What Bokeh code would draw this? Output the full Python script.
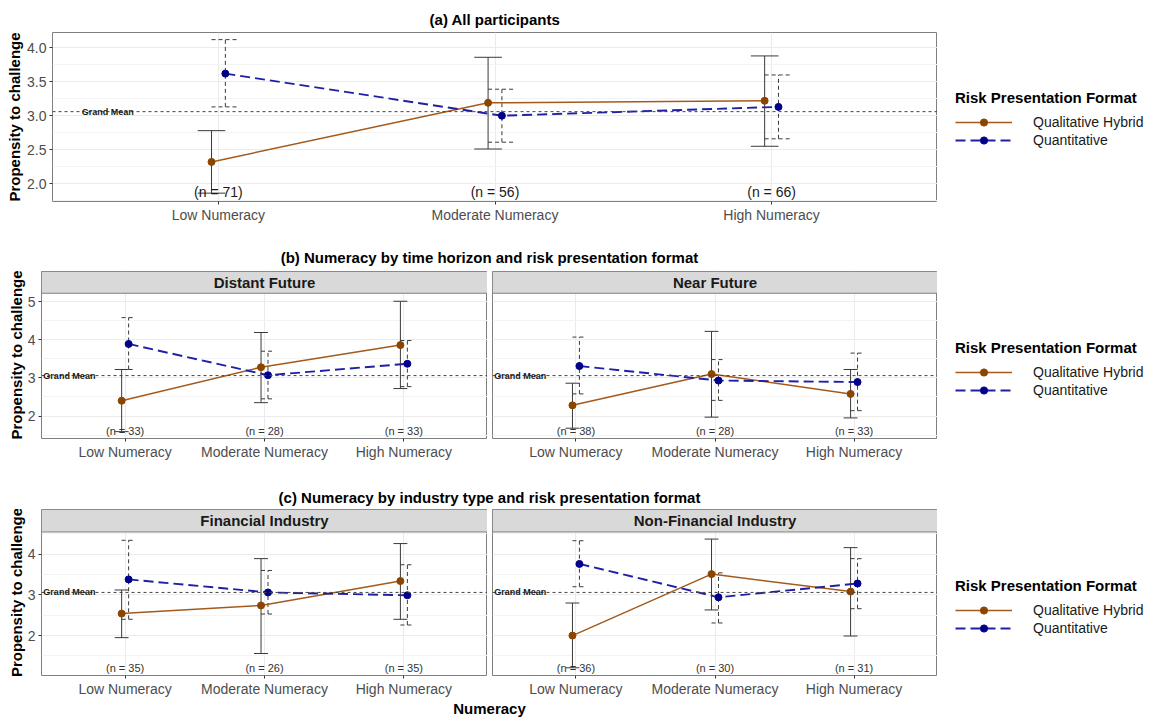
from bokeh.plotting import figure
from bokeh.models import (Range1d, FixedTicker, Legend, LegendItem, Label, Span,
                          Grid, NumeralTickFormatter, Spacer)
from bokeh.layouts import column, row
from bokeh.embed import file_html
from bokeh.resources import INLINE
from bokeh.core.properties import value

# ---------------- data ----------------
CATEGORIES = ["Low Numeracy", "Moderate Numeracy", "High Numeracy"]
SERIES = ["Qualitative Hybrid", "Quantitative"]
GRAND_MEAN = 3.06

# (a) All participants
A_QH_MEAN = [2.32, 3.19, 3.22]
A_QH_LO = [1.86, 2.51, 2.55]
A_QH_HI = [2.78, 3.86, 3.88]
A_QT_MEAN = [3.62, 3.00, 3.13]
A_QT_LO = [3.13, 2.61, 2.66]
A_QT_HI = [4.12, 3.39, 3.60]
A_N = [71, 56, 66]

# (b) Distant Future
BD_QH_MEAN = [2.40, 3.28, 3.86]
BD_QH_LO = [1.59, 2.35, 2.72]
BD_QH_HI = [3.22, 4.19, 5.01]
BD_QT_MEAN = [3.89, 3.07, 3.37]
BD_QT_LO = [3.22, 2.45, 2.77]
BD_QT_HI = [4.58, 3.70, 3.98]
BD_N = [33, 28, 33]

# (b) Near Future
BN_QH_MEAN = [2.28, 3.10, 2.58]
BN_QH_LO = [1.68, 1.97, 1.95]
BN_QH_HI = [2.86, 4.22, 3.22]
BN_QT_MEAN = [3.31, 2.93, 2.89]
BN_QT_LO = [2.58, 2.41, 2.14]
BN_QT_HI = [4.07, 3.48, 3.65]
BN_N = [38, 28, 33]

# (c) Financial Industry
CF_QH_MEAN = [2.54, 2.74, 3.34]
CF_QH_LO = [1.95, 1.56, 2.40]
CF_QH_HI = [3.12, 3.89, 4.26]
CF_QT_MEAN = [3.38, 3.06, 2.99]
CF_QT_LO = [2.40, 2.53, 2.26]
CF_QT_HI = [4.34, 3.60, 3.74]
CF_N = [35, 26, 35]

# (c) Non-Financial Industry
CN_QH_MEAN = [2.00, 3.51, 3.08]
CN_QH_LO = [1.21, 2.63, 1.99]
CN_QH_HI = [2.80, 4.37, 4.16]
CN_QT_MEAN = [3.76, 2.94, 3.28]
CN_QT_LO = [3.20, 2.31, 2.66]
CN_QT_HI = [4.33, 3.54, 3.89]
CN_N = [36, 30, 31]

# ---------------- style ----------------
FONT = "Liberation Sans"
QH_LINE = "#A35A1C"
QH_PT = "#8B4500"
QT_LINE = "#2020A6"
QT_PT = "#00008B"
EB_COLOR = "#3A3A3A"
BORDER = "#7F7F7F"
STRIP_FILL = "#D9D9D9"
GRID_MAJ = "#EBEBEB"
GRID_MIN = "#F4F4F4"
TICK_COLOR = "#333333"
TICK_LABEL = "#4D4D4D"

X_LO, X_HI = 0.4, 3.6
DODGE = 0.025
CAP = 0.05
XS = [i + 1 for i in range(len(CATEGORIES))]

LEFT_W = 937
LEG_W = 216


def style_xaxis(p):
    p.xaxis.ticker = FixedTicker(ticks=XS)
    p.xaxis.major_label_overrides = {x: c for x, c in zip(XS, CATEGORIES)}
    p.xaxis.axis_line_color = None
    p.xaxis.major_tick_line_color = TICK_COLOR
    p.xaxis.major_tick_out = 3
    p.xaxis.major_tick_in = 0
    p.xaxis.minor_tick_line_color = None
    p.xaxis.major_label_standoff = 2
    p.xaxis.major_label_text_font = FONT
    p.xaxis.major_label_text_font_size = "14px"
    p.xaxis.major_label_text_color = TICK_LABEL


def panel(width, left_border, frame_h, bottom_border, strip_px, y_lo, y_hi,
          y_ticks, y_minor, y_fmt, show_y, strip_text, series, n_vals,
          n_px, n_size, n_color, label_standoff):
    plot_px = frame_h - strip_px
    upp = (y_hi - y_lo) / plot_px
    y_top = y_hi + strip_px * upp
    p = figure(width=width, height=frame_h + bottom_border,
               x_range=Range1d(X_LO, X_HI), y_range=Range1d(y_lo, y_top),
               min_border_left=left_border, min_border_right=0,
               min_border_top=0, min_border_bottom=bottom_border,
               y_axis_type="linear" if show_y else None,
               toolbar_location=None, output_backend="svg")
    p.background_fill_color = "white"
    p.border_fill_color = "white"
    p.outline_line_color = BORDER
    p.outline_line_width = 1
    style_xaxis(p)
    p.xgrid.grid_line_color = GRID_MAJ
    p.xgrid.grid_line_width = 1
    yt = FixedTicker(ticks=y_ticks, minor_ticks=y_minor)
    if show_y:
        p.yaxis.ticker = yt
        p.yaxis.formatter = NumeralTickFormatter(format=y_fmt)
        p.yaxis.axis_line_color = None
        p.yaxis.major_tick_line_color = TICK_COLOR
        p.yaxis.major_tick_out = 3
        p.yaxis.major_tick_in = 0
        p.yaxis.minor_tick_line_color = None
        p.yaxis.major_label_standoff = 2
        p.yaxis.major_label_text_font = FONT
        p.yaxis.major_label_text_font_size = "14px"
        p.yaxis.major_label_text_color = TICK_LABEL
        p.yaxis.axis_label = "Propensity to challenge"
        p.yaxis.axis_label_text_font = FONT
        p.yaxis.axis_label_text_font_size = "15px"
        p.yaxis.axis_label_text_font_style = "bold"
        p.yaxis.axis_label_text_color = "#000000"
        p.yaxis.axis_label_standoff = label_standoff
        g = p.ygrid[0]
    else:
        g = Grid(dimension=1, ticker=yt)
        p.add_layout(g)
    g.grid_line_color = GRID_MAJ
    g.grid_line_width = 1
    g.minor_grid_line_color = GRID_MIN
    g.minor_grid_line_width = 1

    # facet strip
    if strip_px > 0:
        p.quad(left=[X_LO], right=[X_HI], bottom=[y_hi], top=[y_top],
               fill_color=STRIP_FILL, line_color=BORDER, line_width=1)
        p.add_layout(Label(x=(X_LO + X_HI) / 2, y=(y_hi + y_top) / 2,
                           text=strip_text, text_align="center",
                           text_baseline="middle", text_font=FONT,
                           text_font_size="15px", text_font_style="bold",
                           text_color="#1A1A1A"))

    # grand mean
    p.add_layout(Span(location=GRAND_MEAN, dimension="width",
                      line_color="#444444", line_dash="3 3", line_width=1))
    p.add_layout(Label(x=0.6, y=GRAND_MEAN, text="Grand Mean",
                       text_align="center", text_baseline="middle",
                       text_font=FONT, text_font_size="9px",
                       text_font_style="bold", text_color="#1A1A1A"))

    (qh_m, qh_lo, qh_hi), (qt_m, qt_lo, qt_hi) = series
    specs = [
        (qh_m, qh_lo, qh_hi, -DODGE, "solid", QH_LINE, QH_PT, 1.5, "solid"),
        (qt_m, qt_lo, qt_hi, DODGE, "4 3", QT_LINE, QT_PT, 1.9, "10 5"),
    ]
    for m, lo, hi, off, eb_dash, lc, pc, lw, ldash in specs:
        xs = [x + off for x in XS]
        p.segment(x0=xs, y0=lo, x1=xs, y1=hi, line_color=EB_COLOR,
                  line_width=1, line_dash=eb_dash)
        for yy in (lo, hi):
            p.segment(x0=[x - CAP for x in xs], y0=yy,
                      x1=[x + CAP for x in xs], y1=yy,
                      line_color=EB_COLOR, line_width=1, line_dash=eb_dash)
    for m, lo, hi, off, eb_dash, lc, pc, lw, ldash in specs:
        xs = [x + off for x in XS]
        p.line(xs, m, line_color=lc, line_width=lw, line_dash=ldash)
    for m, lo, hi, off, eb_dash, lc, pc, lw, ldash in specs:
        xs = [x + off for x in XS]
        p.scatter(xs, m, size=7, fill_color=pc, line_color=pc)

    y_n = y_lo + n_px * upp
    p.text(x=XS, y=[y_n] * len(XS), text=["(n = %d)" % n for n in n_vals],
           text_align="center", text_baseline="middle",
           text_font=value(FONT), text_font_size=value(n_size),
           text_color=n_color)
    return p


def legend_block(height, top_px, series):
    p = figure(width=LEG_W, height=height - top_px, x_range=Range1d(-2, -1),
               y_range=Range1d(-2, -1), x_axis_type=None, y_axis_type=None,
               min_border_left=18, min_border_top=0, min_border_right=0,
               min_border_bottom=0, toolbar_location=None, output_backend="svg")
    p.outline_line_color = None
    (qh_m, _, _), (qt_m, _, _) = series
    l1 = p.line(XS, qh_m, line_color=QH_LINE, line_width=1.5)
    s1 = p.scatter(XS, qh_m, size=6, fill_color=QH_PT, line_color=QH_PT)
    l2 = p.line(XS, qt_m, line_color=QT_LINE, line_width=1.9, line_dash="10 5")
    s2 = p.scatter(XS, qt_m, size=6, fill_color=QT_PT, line_color=QT_PT)
    leg = Legend(items=[LegendItem(label=SERIES[0], renderers=[l1, s1]),
                        LegendItem(label=SERIES[1], renderers=[l2, s2])],
                 location="top_left", title="Risk Presentation Format",
                 title_text_font=FONT, title_text_font_size="15px",
                 title_text_font_style="bold", title_text_color="#000000",
                 title_standoff=7,
                 label_text_font=FONT, label_text_font_size="14px",
                 label_text_color="#1A1A1A",
                 glyph_width=57, glyph_height=18, label_height=18,
                 label_standoff=21, spacing=0, padding=0, margin=0,
                 border_line_color=None, background_fill_alpha=0)
    p.add_layout(leg)
    return column(Spacer(width=LEG_W, height=top_px), p)


def text_fig(width, height, text, x, y):
    p = figure(width=width, height=height, x_range=Range1d(0, width),
               y_range=Range1d(0, height), x_axis_type=None, y_axis_type=None,
               min_border=0, toolbar_location=None, output_backend="svg")
    p.outline_line_color = None
    p.add_layout(Label(x=x, y=y, text=text, text_align="center",
                       text_baseline="middle", text_font=FONT,
                       text_font_size="15px", text_font_style="bold",
                       text_color="#000000"))
    return p


# ---------------- build ----------------
A_SER = [(A_QH_MEAN, A_QH_LO, A_QH_HI), (A_QT_MEAN, A_QT_LO, A_QT_HI)]
BD_SER = [(BD_QH_MEAN, BD_QH_LO, BD_QH_HI), (BD_QT_MEAN, BD_QT_LO, BD_QT_HI)]
BN_SER = [(BN_QH_MEAN, BN_QH_LO, BN_QH_HI), (BN_QT_MEAN, BN_QT_LO, BN_QT_HI)]
CF_SER = [(CF_QH_MEAN, CF_QH_LO, CF_QH_HI), (CF_QT_MEAN, CF_QT_LO, CF_QT_HI)]
CN_SER = [(CN_QH_MEAN, CN_QH_LO, CN_QH_HI), (CN_QT_MEAN, CN_QT_LO, CN_QT_HI)]

A_LEFT = 52
FACET_LEFT = 41
FACET_GAP = 5
FACET_LW = 487
FACET_RW = LEFT_W - FACET_LW

a_center = A_LEFT + (LEFT_W - A_LEFT) / 2
f_center = FACET_LEFT + (LEFT_W - FACET_LEFT) / 2

titleA = text_fig(LEFT_W, 32, "(a) All participants", a_center, 12.7)
figA = panel(LEFT_W, A_LEFT, 170, 23, 0, 1.737, 4.225,
             [2.0, 2.5, 3.0, 3.5, 4.0], [1.75, 2.25, 2.75, 3.25, 3.75, 4.25],
             "0.0", True, "", A_SER, A_N, 9.3, "14px", "#1A1A1A", 1)
legA = legend_block(193, 57, A_SER)

titleB = text_fig(LEFT_W, 46, "(b) Numeracy by time horizon and risk presentation format", f_center, 14)
B_TICKS = [2, 3, 4, 5]
B_MINOR = [1.5, 2.5, 3.5, 4.5, 5.5]
figBL = panel(FACET_LW, FACET_LEFT, 169, 22, 22, 1.41, 5.22, B_TICKS, B_MINOR,
              "0", True, "Distant Future", BD_SER, BD_N, 7.3, "11px", "#333333", 0)
figBR = panel(FACET_RW, FACET_GAP, 169, 22, 22, 1.41, 5.22, B_TICKS, B_MINOR,
              "0", False, "Near Future", BN_SER, BN_N, 7.3, "11px", "#333333", 0)
legB = legend_block(191, 68, BD_SER)

titleC = text_fig(LEFT_W, 47, "(c) Numeracy by industry type and risk presentation format", f_center, 11.7)
C_TICKS = [2, 3, 4]
C_MINOR = [1.5, 2.5, 3.5, 4.5]
figCL = panel(FACET_LW, FACET_LEFT, 170, 20, 23, 1.02, 4.545, C_TICKS, C_MINOR,
              "0", True, "Financial Industry", CF_SER, CF_N, 7.3, "11px", "#333333", 0)
figCR = panel(FACET_RW, FACET_GAP, 170, 20, 23, 1.02, 4.545, C_TICKS, C_MINOR,
              "0", False, "Non-Financial Industry", CN_SER, CN_N, 7.3, "11px", "#333333", 0)
legC = legend_block(190, 68, CF_SER)

xlab = text_fig(LEFT_W, 18, "Numeracy", f_center, 9)

layout = column(
    titleA,
    row(figA, legA),
    titleB,
    row(figBL, figBR, legB),
    titleC,
    row(figCL, figCR, legC),
    xlab,
)

open("out.html", "w").write(file_html(layout, INLINE))
